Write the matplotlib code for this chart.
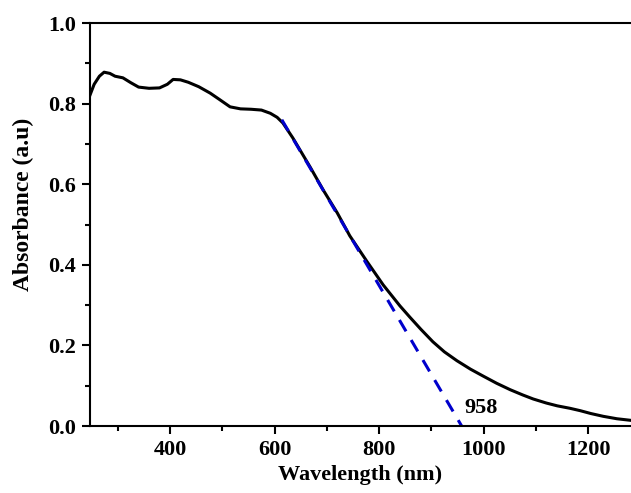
import matplotlib
matplotlib.use('Agg')
import matplotlib.pyplot as plt
from matplotlib.ticker import MultipleLocator, FormatStrFormatter

# absorbance spectrum
wavelength = [247, 255, 265, 274, 285, 295, 310, 325, 340, 360, 380, 395, 406,
              420, 435, 455, 477, 495, 515, 535, 555, 575, 592, 605, 616, 635,
              668, 693, 720, 744, 777, 808, 840, 859, 880, 903, 925, 949, 975,
              999, 1025, 1051, 1075, 1095, 1120, 1141, 1165, 1185, 1205, 1229,
              1255, 1282]
absorbance = [0.821, 0.848, 0.868, 0.878, 0.875, 0.868, 0.864, 0.852, 0.841,
              0.838, 0.839, 0.848, 0.860, 0.859, 0.853, 0.842, 0.826, 0.810,
              0.792, 0.787, 0.786, 0.784, 0.776, 0.766, 0.752, 0.715, 0.643,
              0.586, 0.529, 0.472, 0.408, 0.350, 0.298, 0.270, 0.240, 0.209,
              0.184, 0.162, 0.141, 0.124, 0.106, 0.090, 0.077, 0.067, 0.057,
              0.050, 0.044, 0.038, 0.031, 0.024, 0.018, 0.014]

# band-edge tangent
tangent_x = [614, 958]
tangent_y = [0.76, 0.0]
edge_label = '958'

plt.rcParams['font.family'] = ['Liberation Serif', 'DejaVu Serif']
plt.rcParams['font.weight'] = 'bold'

fig = plt.figure(figsize=(6.31, 4.93), dpi=100)
ax = fig.add_axes([0.1426, 0.1359, 0.8574, 0.8174])

ax.plot(wavelength, absorbance, color='black', lw=2.2)
ax.plot(tangent_x, tangent_y, color='#0000cc', lw=2.2, dashes=(4.3, 3.3))
ax.text(963, 0.045, edge_label, fontsize=16, fontweight='bold',
        ha='left', va='center')

ax.set_xlim(247, 1282)
ax.set_ylim(0, 1.0)
ax.xaxis.set_major_locator(MultipleLocator(200))
ax.xaxis.set_minor_locator(MultipleLocator(100))
ax.yaxis.set_major_locator(MultipleLocator(0.2))
ax.yaxis.set_minor_locator(MultipleLocator(0.1))
ax.yaxis.set_major_formatter(FormatStrFormatter('%.1f'))

for s in ['left', 'bottom', 'top']:
    ax.spines[s].set_linewidth(1.5)
ax.spines['right'].set_visible(False)
ax.tick_params(which='major', direction='out', length=5.8, width=1.5,
               labelsize=16, pad=4)
ax.tick_params(which='minor', direction='out', length=3.6, width=1.5)
for lab in ax.get_xticklabels() + ax.get_yticklabels():
    lab.set_fontweight('bold')

ax.set_xlabel('Wavelength (nm)', fontsize=16, fontweight='bold', labelpad=4)
ax.set_ylabel('Absorbance (a.u)', fontsize=17, fontweight='bold')
ax.yaxis.set_label_coords(-0.103, 0.55)

fig.savefig('out.png', dpi=100, facecolor='white')
